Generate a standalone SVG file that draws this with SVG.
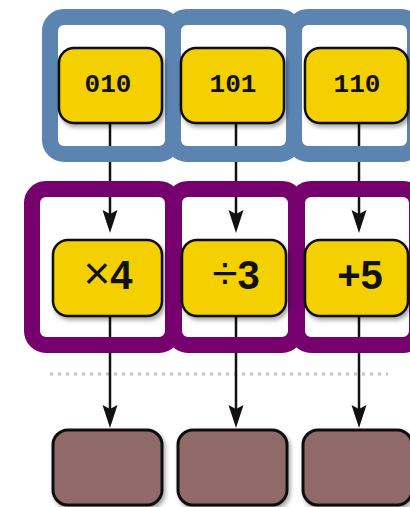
<svg xmlns="http://www.w3.org/2000/svg" width="410" height="507" viewBox="0 0 410 507">
  <style>
    .bin { fill: #f5d000; stroke: #111; stroke-width: 2.5; filter: url(#shadow); }
    .op { fill: #f5d000; stroke: #111; stroke-width: 2.5; filter: url(#shadow); }
    .out { fill: #8f6b69; stroke: #111; stroke-width: 3; filter: url(#shadow); }
    .bits { font-family: "Liberation Mono", "DejaVu Sans Mono", monospace; font-weight: bold; font-size: 26px; fill: #111; text-anchor: middle; }
    .opt { font-family: "Liberation Sans", Arial, sans-serif; font-weight: bold; font-size: 40px; fill: #111; text-anchor: middle; }
    .sym { font-weight: normal; font-size: 46px; }
    .frame-in { fill: none; stroke: #5b84b1; stroke-width: 16; }
    .frame-op { fill: none; stroke: #77006f; stroke-width: 16; }
    .wire { stroke: #111; stroke-width: 2.5; fill: none; marker-end: url(#head); }
    .sep { stroke: #c4c4c4; stroke-width: 3; stroke-dasharray: 3 5; }
  </style>
  <defs>
    <filter id="shadow" x="-20%" y="-20%" width="150%" height="150%">
      <feDropShadow dx="2" dy="3" stdDeviation="2" flood-color="#000" flood-opacity="0.35"/>
    </filter>
    <marker id="head" markerUnits="userSpaceOnUse" markerWidth="24" markerHeight="16" refX="14" refY="7.5" orient="auto">
      <path d="M0,0 L23,7.5 L0,15 L4,7.5 Z" fill="#111"/>
    </marker>
  </defs>

  <rect width="410" height="507" fill="#fff"/>

  <!-- separator -->
  <line class="sep" x1="50" y1="374" x2="388" y2="374"/>

  <!-- connectors -->
  <g id="connectors">
    <line class="wire" x1="110" y1="123" x2="110" y2="224"/>
    <line class="wire" x1="236" y1="123" x2="236" y2="224"/>
    <line class="wire" x1="359" y1="123" x2="359" y2="224"/>
    <line class="wire" x1="110" y1="316" x2="110" y2="419"/>
    <line class="wire" x1="236" y1="316" x2="236" y2="419"/>
    <line class="wire" x1="359" y1="316" x2="359" y2="419"/>
  </g>

  <!-- input frames -->
  <g id="input-frames">
    <rect class="frame-in" x="50" y="17" width="123" height="137" rx="14"/>
    <rect class="frame-in" x="173" y="17" width="121" height="137" rx="14"/>
    <rect class="frame-in" x="294" y="17" width="121" height="137" rx="14"/>
  </g>

  <!-- operation frames -->
  <g id="op-frames">
    <rect class="frame-op" x="32" y="189" width="141" height="156" rx="14"/>
    <rect class="frame-op" x="174" y="189" width="122" height="156" rx="14"/>
    <rect class="frame-op" x="297" y="189" width="120" height="156" rx="14"/>
  </g>

  <!-- inputs -->
  <g id="in-010">
    <rect class="bin" x="59" y="48" width="103" height="75" rx="15"/>
    <text class="bits" x="108" y="92">010</text>
  </g>
  <g id="in-101">
    <rect class="bin" x="181" y="48" width="103" height="75" rx="15"/>
    <text class="bits" x="233" y="92">101</text>
  </g>
  <g id="in-110">
    <rect class="bin" x="305" y="48" width="103" height="75" rx="15"/>
    <text class="bits" x="357" y="92">110</text>
  </g>

  <!-- operations -->
  <g id="op-mul4">
    <rect class="op" x="53" y="240" width="109" height="76" rx="15"/>
    <text class="opt" x="108" y="289"><tspan class="sym">×</tspan>4</text>
  </g>
  <g id="op-div3">
    <rect class="op" x="182" y="240" width="104" height="76" rx="15"/>
    <text class="opt" x="236" y="289"><tspan class="sym">÷</tspan>3</text>
  </g>
  <g id="op-add5">
    <rect class="op" x="305" y="240" width="103" height="76" rx="15"/>
    <text class="opt" x="360" y="289">+5</text>
  </g>

  <!-- outputs -->
  <g id="out-1">
    <rect class="out" x="53" y="430" width="109" height="75" rx="15"/>
  </g>
  <g id="out-2">
    <rect class="out" x="178" y="430" width="109" height="75" rx="15"/>
  </g>
  <g id="out-3">
    <rect class="out" x="303" y="430" width="109" height="75" rx="15"/>
  </g>
</svg>
